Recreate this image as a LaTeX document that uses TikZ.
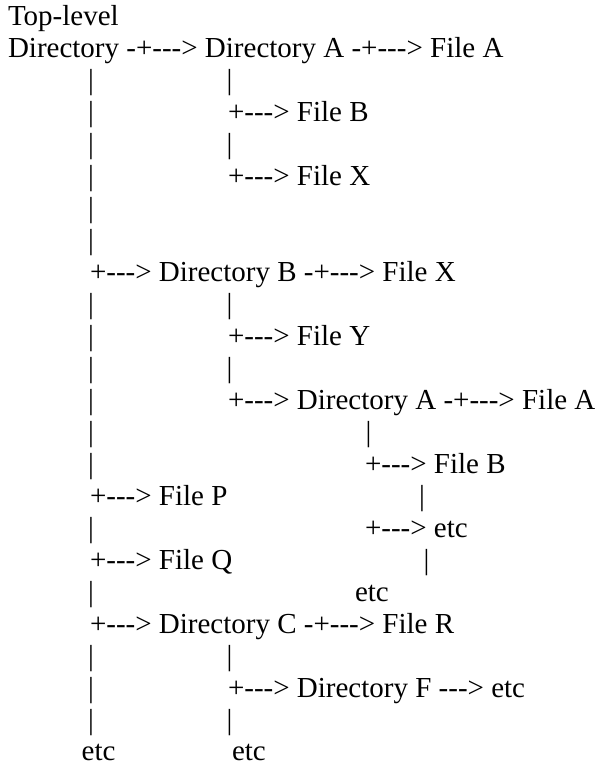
\documentclass[tikz,border=0pt]{standalone}
\usepackage{fontspec}
\setmainfont{Liberation Serif}
\newcommand\hy{\mbox{-}}
\newcommand\parr{+\hy\hy\hy>}
\newcommand\mparr{\hy+\hy\hy\hy>}
\newcommand\sarr{\hy\hy\hy>}
\tikzset{
  txt/.style={inner sep=0pt, outer sep=0pt, anchor=base west, font=\fontsize{29bp}{32bp}\selectfont},
  vbar/.style={inner sep=0pt, outer sep=0pt, anchor=base, font=\fontsize{29bp}{32bp}\selectfont},
}
\begin{document}
\begin{tikzpicture}[x=1bp,y=-1bp]
\useasboundingbox (0,0) rectangle (602,765);
% rows of text
\node[txt] (top)  at (8,26)      {Top-level};
\node[txt] (root) at (8,58)      {Directory \mparr{} Directory A \mparr{} File A};
\node[txt] (fB)   at (228,121.9) {\parr{} File B};
\node[txt] (fX)   at (228,185.8) {\parr{} File X};
\node[txt] (dB)   at (90,281.7)  {\parr{} Directory B \mparr{} File X};
\node[txt] (fY)   at (228,345.6) {\parr{} File Y};
\node[txt] (dA2)  at (228,409.5) {\parr{} Directory A \mparr{} File A};
\node[txt] (fB2)  at (365,473.4) {\parr{} File B};
\node[txt] (fP)   at (90,505.4)  {\parr{} File P};
\node[txt] (etc1) at (365,537.4) {\parr{} etc};
\node[txt] (fQ)   at (90,569.3)  {\parr{} File Q};
\node[txt] (etc2) at (355,601.3) {etc};
\node[txt] (dC)   at (90,633.2)  {\parr{} Directory C \mparr{} File R};
\node[txt] (dF)   at (228,697.2) {\parr{} Directory F \sarr{} etc};
\node[txt] (etc4) at (81.7,760)  {etc};
\node[txt] (etc5) at (232,760)   {etc};
% vertical bars, column 1
\foreach \y [count=\i] in {89.9,121.9,153.8,185.8,217.8,249.7,313.6,345.6,377.6,409.5,441.5,473.4,537.4,601.3,665.2,697.2,729.1}
  \node[vbar] (ba\i) at (91,\y) {|};
% column 2
\foreach \y [count=\i] in {89.9,153.8,313.6,377.6,665.2,729.1}
  \node[vbar] (bb\i) at (229.5,\y) {|};
% deeper bars
\node[vbar] (bc1) at (368.5,441.5) {|};
\node[vbar] (bd1) at (422,505.4) {|};
\node[vbar] (bd2) at (426.5,569.3) {|};
\end{tikzpicture}
\end{document}
